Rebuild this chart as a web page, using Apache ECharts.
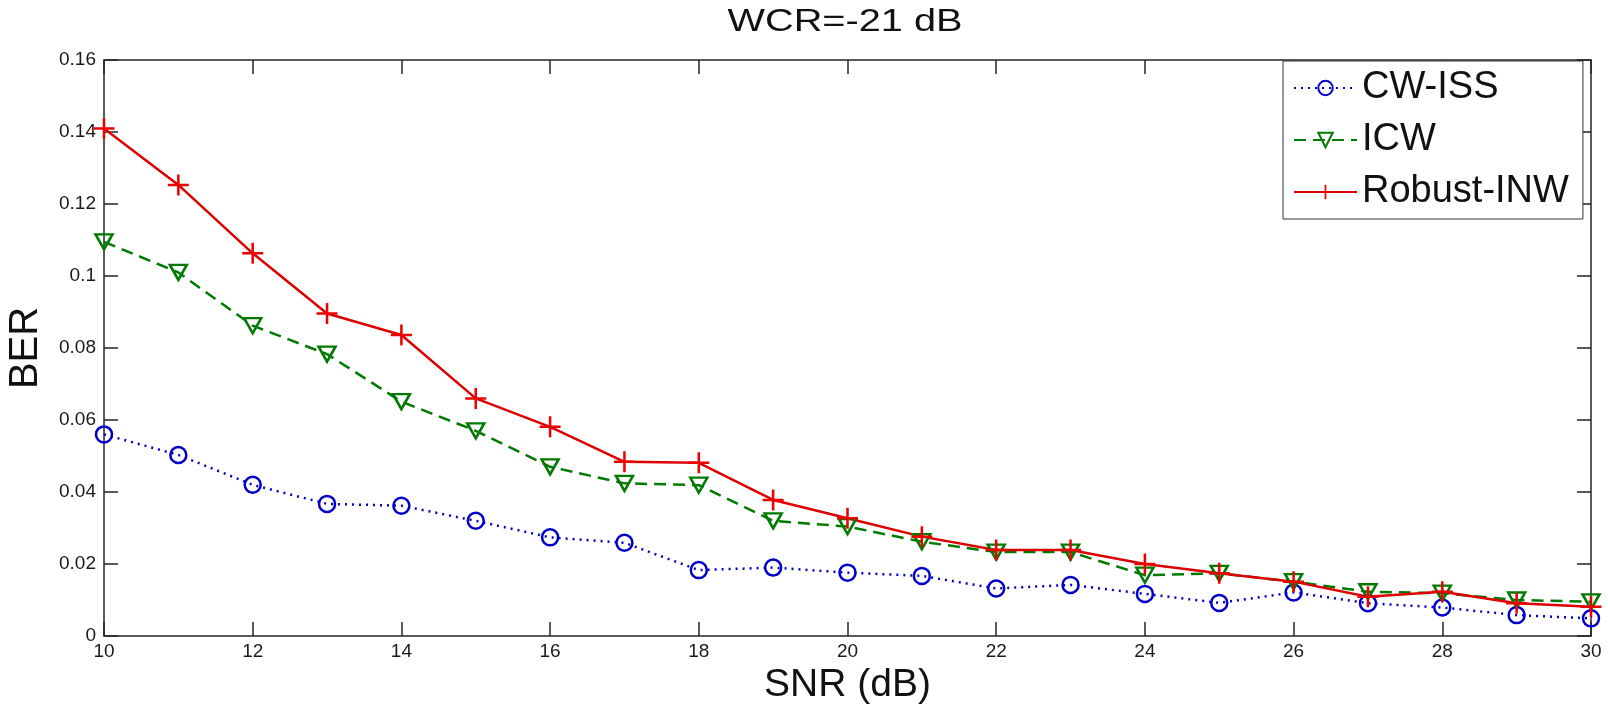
<!DOCTYPE html>
<html>
<head>
<meta charset="utf-8">
<title>WCR=-21 dB</title>
<script src="https://cdn.jsdelivr.net/npm/echarts@6/dist/echarts.min.js"></script>
<style>
  html, body { margin: 0; padding: 0; background: #fff; }
  #chart { width: 1608px; height: 706px; }
</style>
</head>
<body>
<div id="chart"></div>
<script>
// SNR (dB) points
const snr = [10, 11, 12, 13, 14, 15, 16, 17, 18, 19, 20, 21, 22, 23, 24, 25, 26, 27, 28, 29, 30];
// BER values
const cwIss = [0.0560, 0.0503, 0.0420, 0.0367, 0.0362, 0.0320, 0.0274, 0.0259, 0.0183, 0.0190, 0.0176,
  0.0167, 0.0132, 0.0142, 0.0117, 0.0092, 0.0121, 0.0091, 0.0079, 0.0058, 0.0049];
const icw = [0.1095, 0.1010, 0.0862, 0.0783, 0.0651, 0.0570, 0.0470, 0.0424, 0.0419, 0.0320, 0.0304,
  0.0262, 0.0233, 0.0233, 0.0169, 0.0174, 0.0151, 0.0123, 0.0119, 0.0100, 0.0095];
const robustInw = [0.1410, 0.1253, 0.1063, 0.0896, 0.0836, 0.0660, 0.0581, 0.0484, 0.0481, 0.0378, 0.0327,
  0.0276, 0.0239, 0.0239, 0.0200, 0.0174, 0.0151, 0.0109, 0.0123, 0.0091, 0.0081];
const seriesNames = ['CW-ISS', 'ICW', 'Robust-INW'];

const FONT = '"Liberation Sans", Arial, Helvetica, sans-serif';
const AXIS_COLOR = '#262626';

const pairs = (ys) => snr.map((x, i) => [x, ys[i]]);

const chart = echarts.init(document.getElementById('chart'));

// matlab style box: ticks inside on all four sides
const xBase = {
  type: 'value',
  min: 10,
  max: 30,
  interval: 2,
  splitLine: { show: false },
  axisLine: { show: true, onZero: false, lineStyle: { color: AXIS_COLOR, width: 1.5 } },
  axisTick: { show: true, inside: true, length: 14, lineStyle: { color: AXIS_COLOR, width: 1.5 } },
};
const yBase = {
  type: 'value',
  min: 0,
  max: 0.16,
  interval: 0.02,
  splitLine: { show: false },
  axisLine: { show: true, onZero: false, lineStyle: { color: AXIS_COLOR, width: 1.5 } },
  axisTick: { show: true, inside: true, length: 14, lineStyle: { color: AXIS_COLOR, width: 1.5 } },
};

const option = {
  backgroundColor: '#fff',
  animation: false,
  grid: { left: 104, right: 17, top: 60, bottom: 70, containLabel: false, outerBoundsMode: 'none' },
  graphic: [
    {
      type: 'text',
      x: 845,
      y: 22,
      scaleX: 1.28,
      style: {
        text: 'WCR=-21 dB',
        font: '31px ' + FONT,
        fill: '#111',
        textAlign: 'center',
        textVerticalAlign: 'middle',
      },
    },
  ],
  legend: {
    orient: 'vertical',
    left: 1283,
    top: 61,
    data: seriesNames,
    backgroundColor: '#fff',
    borderColor: '#333',
    borderWidth: 1,
    padding: [8, 14, 8, 10],
    itemWidth: 63,
    itemHeight: 18,
    itemGap: 14,
    textStyle: { fontFamily: FONT, fontSize: 38, color: '#111' },
  },
  xAxis: [
    Object.assign({}, xBase, {
      position: 'bottom',
      name: 'SNR (dB)',
      nameLocation: 'middle',
      nameGap: 30,
      nameTextStyle: { fontFamily: FONT, fontSize: 39, color: '#111' },
      axisLabel: { fontFamily: FONT, fontSize: 19, color: '#1a1a1a', margin: 6 },
    }),
    Object.assign({}, xBase, { position: 'top', axisLabel: { show: false } }),
  ],
  yAxis: [
    Object.assign({}, yBase, {
      position: 'left',
      name: 'BER',
      nameLocation: 'middle',
      nameGap: 58,
      nameTextStyle: { fontFamily: FONT, fontSize: 40, color: '#111' },
      axisLabel: { fontFamily: FONT, fontSize: 19, color: '#1a1a1a', margin: 8 },
    }),
    Object.assign({}, yBase, { position: 'right', axisLabel: { show: false } }),
  ],
  series: [
    {
      name: seriesNames[0],
      type: 'line',
      data: pairs(cwIss),
      symbol: 'circle',
      symbolSize: 16,
      lineStyle: { color: '#0000c8', width: 2.5, type: [2, 5] },
      itemStyle: { color: 'rgba(255,255,255,0)', borderColor: '#0000c8', borderWidth: 2.5 },
    },
    {
      name: seriesNames[1],
      type: 'line',
      data: pairs(icw),
      symbol: 'triangle',
      symbolRotate: 180,
      symbolSize: [17, 15],
      lineStyle: { color: '#007a00', width: 2.5, type: [12, 7] },
      itemStyle: { color: 'rgba(255,255,255,0)', borderColor: '#007a00', borderWidth: 2.5 },
    },
    {
      name: seriesNames[2],
      type: 'line',
      data: pairs(robustInw),
      symbol: 'path://M-1.2,-10L1.2,-10L1.2,-1.2L10,-1.2L10,1.2L1.2,1.2L1.2,10L-1.2,10L-1.2,1.2L-10,1.2L-10,-1.2L-1.2,-1.2Z',
      symbolSize: 21,
      lineStyle: { color: '#dc0000', width: 2.5 },
      itemStyle: { color: '#ee0000', borderWidth: 0 },
    },
  ],
};

chart.setOption(option);
</script>
</body>
</html>
